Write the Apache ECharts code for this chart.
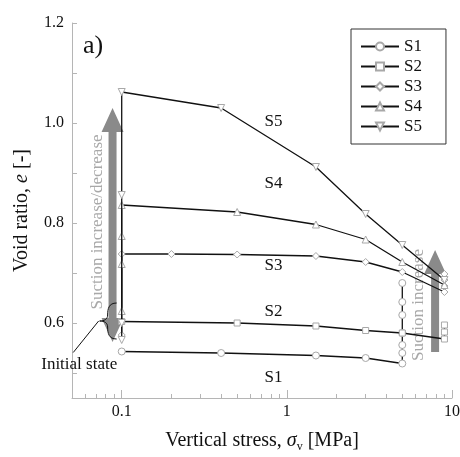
<!DOCTYPE html>
<html>
<head>
<meta charset="utf-8">
<script src="https://cdn.jsdelivr.net/npm/echarts@6/dist/echarts.min.js"></script>
<style>
  html, body { margin: 0; padding: 0; background: #fff; }
  #chart { width: 460px; height: 457px; }
</style>
</head>
<body>
<div id="chart"></div>
<script>
// stress [MPa] and void ratio for each test
const s1Stress = [0.1, 0.4, 1.5, 3, 5, 5, 5, 5, 5, 5, 5];
const s1E = [0.543, 0.54, 0.535, 0.53, 0.519, 0.54, 0.556, 0.58, 0.616, 0.642, 0.68];
const s2Stress = [0.1, 0.5, 1.5, 3, 5, 9, 9, 9];
const s2E = [0.603, 0.6, 0.594, 0.585, 0.58, 0.568, 0.582, 0.596];
const s3Stress = [0.1, 0.1, 0.2, 0.5, 1.5, 3, 5, 9, 9, 9, 9];
const s3E = [0.576, 0.738, 0.738, 0.737, 0.734, 0.722, 0.702, 0.662, 0.674, 0.686, 0.698];
const s4Stress = [0.1, 0.1, 0.1, 0.1, 0.5, 1.5, 3, 5, 9];
const s4E = [0.624, 0.718, 0.774, 0.836, 0.822, 0.797, 0.767, 0.722, 0.676];
const s5Stress = [0.1, 0.1, 0.1, 0.1, 0.4, 1.5, 3, 5, 9];
const s5E = [0.566, 0.6, 0.856, 1.062, 1.03, 0.912, 0.818, 0.756, 0.686];

const seriesNames = ['S1', 'S2', 'S3', 'S4', 'S5'];
const xMajorTicks = [0.1, 1, 10];
const xMinorTicks = [0.06, 0.07, 0.08, 0.09, 0.2, 0.3, 0.4, 0.5, 0.6, 0.7, 0.8, 0.9, 2, 3, 4, 5, 6, 7, 8, 9];
const yTicks = [0.5, 0.6, 0.7, 0.8, 0.9, 1.0, 1.1, 1.2];
const yLabels = [0.6, 0.8, 1.0, 1.2];

const FONT = '"Liberation Serif", "DejaVu Serif", serif';
const lg = v => Math.log10(v);
const pairs = (xs, ys) => xs.map((x, i) => [lg(x), ys[i]]);

const chart = echarts.init(document.getElementById('chart'));

const symbols = ['circle', 'rect', 'diamond', 'triangle', 'triangle'];
const rotates = [0, 0, 0, 0, 180];
const allData = [
  pairs(s1Stress, s1E), pairs(s2Stress, s2E), pairs(s3Stress, s3E),
  pairs(s4Stress, s4E), pairs(s5Stress, s5E),
];

const axisGrey = '#b5b5b5';

chart.setOption({
  animation: false,
  backgroundColor: '#fff',
  textStyle: { fontFamily: FONT },
  grid: { left: 72, right: 8, top: 23, bottom: 59, outerBoundsMode: 'none' },
  legend: {
    orient: 'vertical',
    left: 351,
    top: 29,
    padding: [9, 24, 9, 9],
    itemWidth: 38,
    itemHeight: 10,
    itemGap: 3,
    borderColor: '#333',
    borderWidth: 1,
    textStyle: { fontFamily: FONT, fontSize: 17, color: '#111', padding: [0, 0, 0, 0] },
    data: seriesNames,
  },
  xAxis: [
    {
      type: 'value',
      min: lg(0.05),
      max: 1,
      position: 'bottom',
      name: '{a|Vertical stress, }{i|σ}{s|v}{a| [MPa]}',
      nameLocation: 'middle',
      nameGap: 31,
      nameTextStyle: {
        rich: {
          a: { fontFamily: FONT, fontSize: 20, color: '#111' },
          i: { fontFamily: FONT, fontSize: 20, fontStyle: 'italic', color: '#111' },
          s: { fontFamily: FONT, fontSize: 12, color: '#111', padding: [12, 0, 0, 0] },
        },
      },
      axisLine: { onZero: false, lineStyle: { color: axisGrey } },
      axisTick: { inside: true, length: 8, customValues: xMajorTicks.map(lg), lineStyle: { color: axisGrey } },
      axisLabel: {
        customValues: xMajorTicks.map(lg),
        formatter: v => String(Math.round(Math.pow(10, v) * 10) / 10),
        fontFamily: FONT, fontSize: 16, color: '#111', margin: 6,
      },
      splitLine: { show: false },
    },
    {
      type: 'value',
      min: lg(0.05),
      max: 1,
      position: 'bottom',
      axisLine: { show: false, onZero: false },
      axisTick: { inside: true, length: 4, customValues: xMinorTicks.map(lg), lineStyle: { color: axisGrey } },
      axisLabel: { show: false },
      splitLine: { show: false },
    },
  ],
  yAxis: {
    type: 'value',
    min: 0.45,
    max: 1.2,
    name: '{a|Void ratio, }{i|e}{a| [-]}',
    nameLocation: 'middle',
    nameGap: 40,
    nameTextStyle: {
      rich: {
        a: { fontFamily: FONT, fontSize: 20, color: '#111' },
        i: { fontFamily: FONT, fontSize: 20, fontStyle: 'italic', color: '#111' },
      },
    },
    axisLine: { show: true, onZero: false, lineStyle: { color: axisGrey } },
    axisTick: { show: true, inside: true, length: 5, customValues: yTicks, lineStyle: { color: axisGrey } },
    axisLabel: {
      customValues: yLabels,
      formatter: v => v.toFixed(1),
      fontFamily: FONT, fontSize: 16, color: '#111', margin: 8,
    },
    splitLine: { show: false },
  },
  series: seriesNames.map((name, i) => ({
    name,
    type: 'line',
    data: allData[i],
    symbol: symbols[i],
    symbolRotate: rotates[i],
    symbolSize: i === 1 ? 6 : 7,
    showAllSymbol: true,
    lineStyle: { color: '#111', width: 1.3 },
    itemStyle: { color: '#fff', borderColor: '#a8a8a8', borderWidth: 1 },
    z: 3 + i,
  })),
});

// annotations placed from data coordinates
const px = (stress, e) => chart.convertToPixel({ seriesIndex: 0 }, [lg(stress), e]);

function vArrow(x, yTop, yBot, both) {
  const sw = 4, hw = 11, hl = 24;
  const pts = [[x, yTop], [x + hw, yTop + hl], [x + sw, yTop + hl]];
  if (both) {
    pts.push([x + sw, yBot - hl], [x + hw, yBot - hl], [x, yBot], [x - hw, yBot - hl], [x - sw, yBot - hl]);
  } else {
    pts.push([x + sw, yBot], [x - sw, yBot]);
  }
  pts.push([x - sw, yTop + hl], [x - hw, yTop + hl]);
  return { type: 'polygon', shape: { points: pts }, style: { fill: '#8a8a8a' }, z: 2 };
}

// curly brace made of four bezier pieces, tip at (x, y)
function brace(x, y) {
  const st = { fill: null, stroke: '#111', lineWidth: 1 };
  const seg = (a, b, c, d) => ({
    type: 'bezierCurve', z: 4, style: st,
    shape: { x1: x + a[0], y1: y + a[1], cpx1: x + b[0], cpy1: y + b[1], cpx2: x + c[0], cpy2: y + c[1], x2: x + d[0], y2: y + d[1] },
  });
  return [
    seg([17, -18], [9, -18], [8, -12], [8, -6]),
    seg([8, -6], [8, -2], [5, 0], [0, 0]),
    seg([0, 0], [5, 0], [8, 2], [8, 6]),
    seg([8, 6], [8, 12], [9, 18], [17, 18]),
  ];
}

const la = px(0.088, 1.03), lb = px(0.088, 0.562);
const ra = px(7.9, 0.746), rb = px(7.9, 0.542);
const lt = px(0.071, 0.802), rt = px(6.3, 0.636);
const br = px(0.0735, 0.604);
const ini = px(0.0553, 0.521);

const seriesLabels = [
  ['S1', 0.83, 0.49], ['S2', 0.83, 0.622], ['S3', 0.83, 0.714],
  ['S4', 0.83, 0.878], ['S5', 0.83, 1.002],
];

const graphic = [
  vArrow(la[0], la[1], lb[1], true),
  vArrow(ra[0], ra[1], rb[1], false),
  {
    type: 'text', x: lt[0], y: lt[1], rotation: Math.PI / 2, z: 1,
    style: { text: 'Suction increase/decrease', font: '17px ' + FONT, fill: '#a8a8a8', align: 'center', verticalAlign: 'middle' },
  },
  {
    type: 'text', x: rt[0], y: rt[1], rotation: Math.PI / 2, z: 1,
    style: { text: 'Suction increase', font: '17px ' + FONT, fill: '#a8a8a8', align: 'center', verticalAlign: 'middle' },
  },
  {
    type: 'line', z: 4,
    shape: { x1: ini[0] - 6, y1: ini[1] - 10, x2: br[0] - 1, y2: br[1] },
    style: { stroke: '#111', lineWidth: 1 },
  },
  {
    type: 'text', x: ini[0], y: ini[1] + 2, z: 4,
    style: { text: 'Initial state', font: '17px ' + FONT, fill: '#111', align: 'center', verticalAlign: 'middle' },
  },
  {
    type: 'text', left: 83, top: 33,
    style: { text: 'a)', font: '26px ' + FONT, fill: '#111' },
  },
].concat(brace(br[0], br[1])).concat(seriesLabels.map(([t, s, e]) => {
  const p = px(s, e);
  return { type: 'text', x: p[0], y: p[1], z: 4, style: { text: t, font: '17px ' + FONT, fill: '#111', align: 'center', verticalAlign: 'middle' } };
}));

chart.setOption({ graphic });
</script>
</body>
</html>
